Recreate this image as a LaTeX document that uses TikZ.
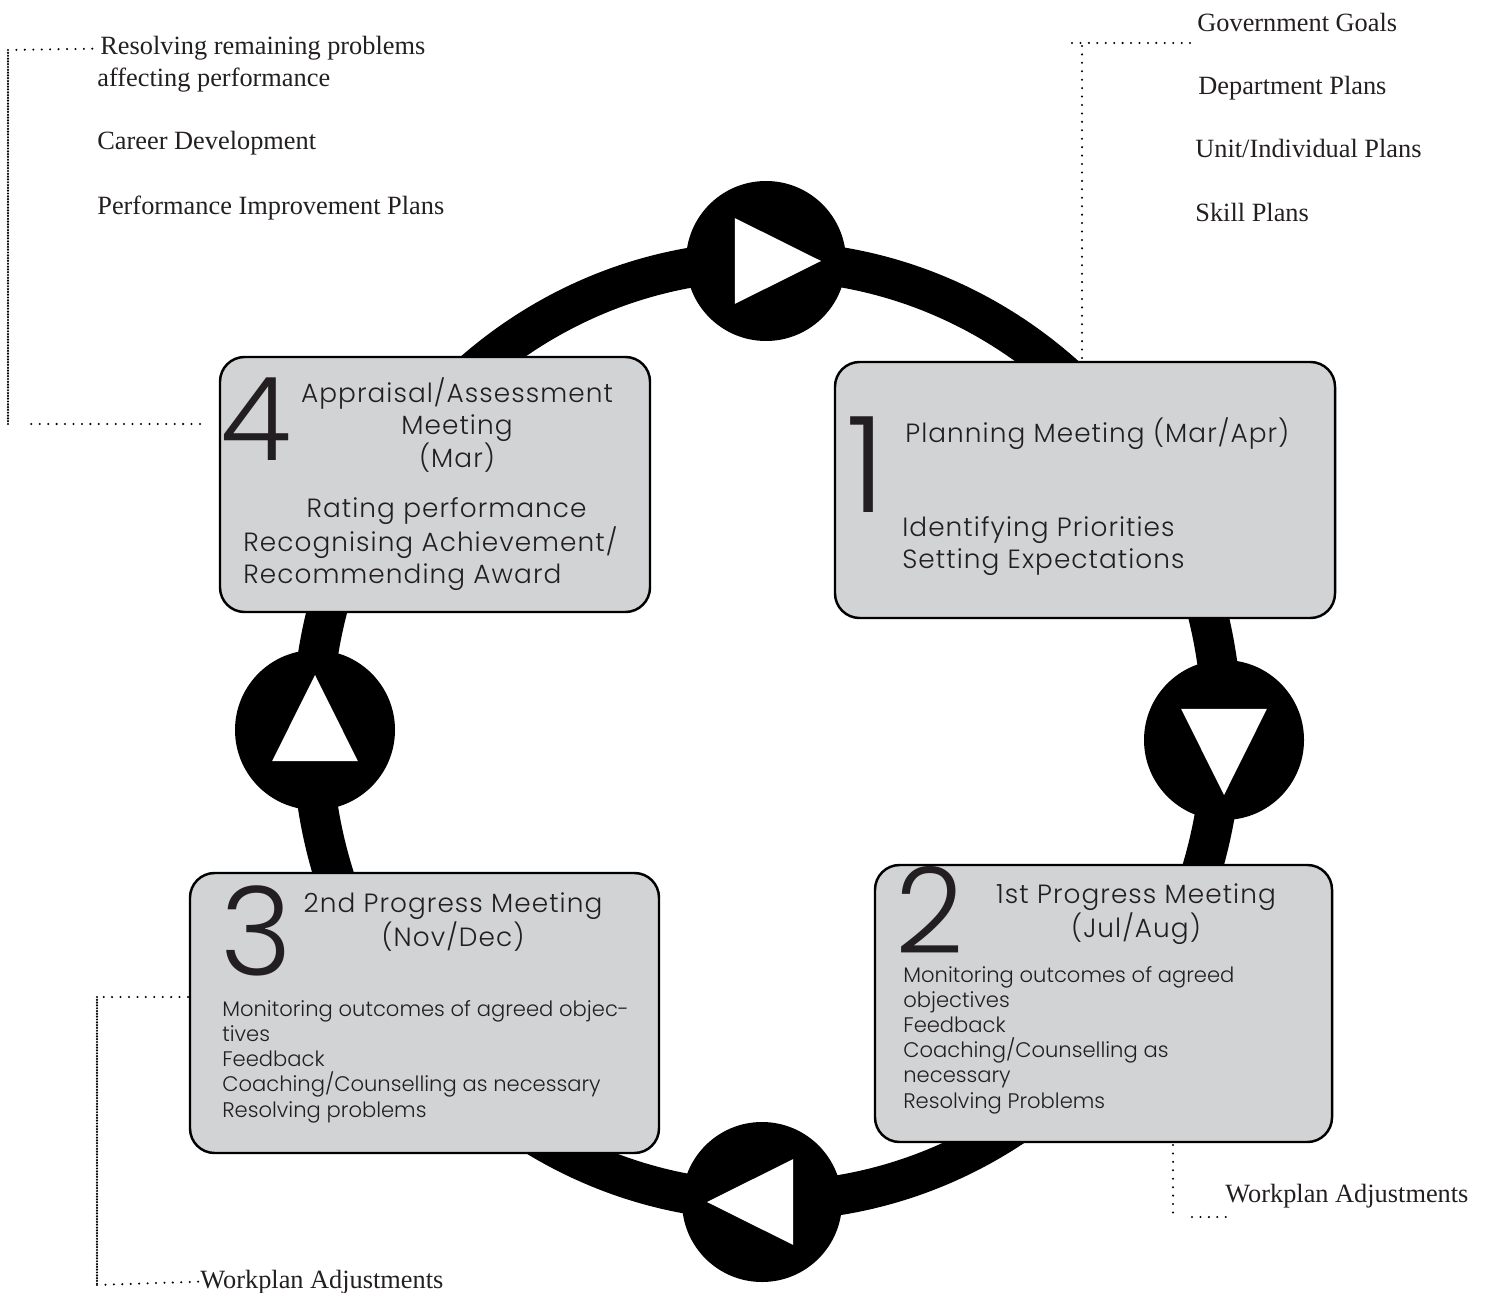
\documentclass[tikz,border=0pt]{standalone}
\usepackage{fontspec}
\usepackage{xcolor}
\setmainfont{Liberation Serif}
\newfontfamily\boxfont{Poppins Light}[LetterSpace=4]
\newfontfamily\plainfont{Poppins Light}
\definecolor{stagegray}{HTML}{D1D3D4}
\definecolor{ink}{HTML}{231F20}

\begin{document}
\begin{tikzpicture}[x=0.02cm, y=-0.02cm,
    stage/.style={draw=black, line width=1.4pt, fill=stagegray, rounded corners=14pt},
    leader/.style={line width=1.3pt, line cap=round, dash pattern=on 0pt off 4.8pt},
    leaderdense/.style={line width=1.4pt, line cap=round, dash pattern=on 0pt off 1.6pt},
    note/.style={font=\fontsize{15}{18}\selectfont, text=ink, inner sep=0pt, anchor=base west},
    bignum/.style={font=\plainfont\fontsize{#1}{#1}\selectfont, text=ink, inner sep=0pt, anchor=base west},
    heading/.style={font=\boxfont\fontsize{15}{18}\selectfont, text=ink, inner sep=0pt, anchor=base},
    body/.style={font=\plainfont\fontsize{12}{14.3}\selectfont, text=ink, inner sep=0pt, anchor=base west}]
\useasboundingbox (0,0) rectangle (1486,1293);

\draw[line width=22.7pt] (767,731) ellipse [x radius=455, y radius=470];
\foreach \cx/\cy/\dir in {766/261/0, 1224/740/90, 762/1202/180, 315/730/270}{
    \fill (\cx,\cy) circle [radius=80];
    \fill[white] ([shift={(\dir:55)}]\cx,\cy) -- ([shift={(\dir+126:53)}]\cx,\cy)
        -- ([shift={(\dir-126:53)}]\cx,\cy) -- cycle;
}

\draw[stage] (220,357) rectangle (650,612);
\draw[stage] (835,362) rectangle (1335,618);
\draw[stage] (875,865) rectangle (1332,1142);
\draw[stage] (190,873) rectangle (659,1153);

\node[bignum=66] (n4) at (220,460) {4};
\node[heading, align=center] (t4) at (457,468) {Appraisal/Assessment\\Meeting\\(Mar)};
\node[heading, anchor=base west, align=left] (act4) at (243,583)
    {\hspace*{36pt}Rating performance\\Recognising Achievement/\\Recommending Award};

\node[bignum=76] (n1) at (846,512) {1};
\node[heading, anchor=base west] (t1) at (905,443) {Planning Meeting (Mar/Apr)};
\node[heading, anchor=base west, align=left] (act1) at (902,568)
    {Identifying Priorities\\Setting Expectations};

\node[bignum=68] (n2) at (895,953) {2};
\node[heading, align=center] (t2) at (1136,937) {1st Progress Meeting\\(Jul/Aug)};
\node[body, align=left] (act2) at (903,1108) {Monitoring outcomes of agreed\\objectives\\Feedback\\
    Coaching/Counselling as\\necessary\\Resolving Problems};

\node[bignum=70] (n3) at (220,975) {3};
\node[heading, align=center] (t3) at (453,946) {2nd Progress Meeting\\(Nov/Dec)};
\node[body, align=left] (act3) at (222,1117) {Monitoring outcomes of agreed objec-\\tives\\Feedback\\
    Coaching/Counselling as necessary\\Resolving problems};

\node[note] (res1) at (100,55) {Resolving remaining problems};
\node[note] (res2) at (97,87) {affecting performance};
\node[note] (career) at (97,150) {Career Development};
\node[note] (pip) at (97,215) {Performance Improvement Plans};
\node[note] (gov) at (1197,32) {Government Goals};
\node[note] (dept) at (1198,95) {Department Plans};
\node[note] (unit) at (1195,158) {Unit/Individual Plans};
\node[note] (skill) at (1195,222) {Skill Plans};
\node[note] (wa1) at (1225,1202) {Workplan Adjustments};
\node[note] (wa2) at (200,1288) {Workplan Adjustments};

\coordinate (b4w) at (200,424);
\coordinate (b1n) at (1082,358);
\coordinate (govfoot) at (1193,43);
\coordinate (b2s) at (1173,1145);
\coordinate (b3w) at (188,997);
\draw[leader] (b4w) -- (25,424);
\draw[leaderdense] (8,424) -- (8,52);
\draw[leader] (8,50) -- ([xshift=-4pt]res1.west);
\draw[leader] (b1n) -- (1082,43) (1072,43) -- (govfoot);
\draw[leader] (b2s) -- (1173,1215) (1192,1217) -- (1228,1217);
\draw[leader] (b3w) -- (97,997);
\draw[leaderdense] (97,997) -- (97,1285);
\draw[leader] (97,1285) -- ([xshift=-1pt]wa2.west);
\end{tikzpicture}
\end{document}
